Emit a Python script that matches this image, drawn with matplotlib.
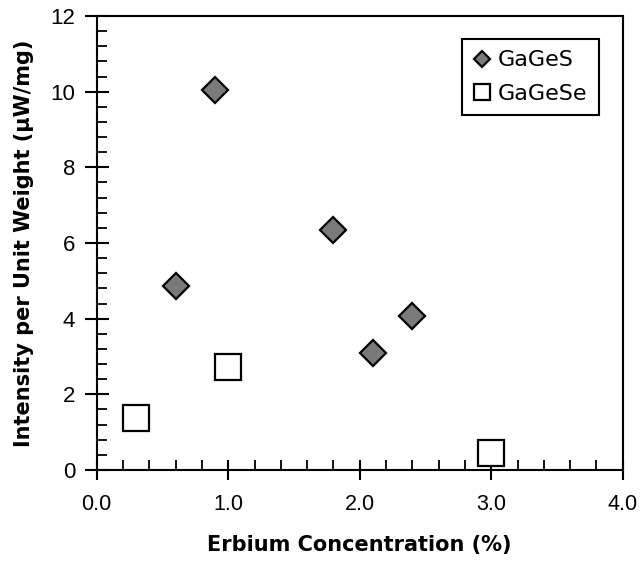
import matplotlib.pyplot as plt
from matplotlib.ticker import MultipleLocator

plt.rcParams['font.family'] = ['Liberation Sans', 'DejaVu Sans']

# data
gages_x = [0.6, 0.9, 1.8, 2.1, 2.4]
gages_y = [4.87, 10.05, 6.35, 3.09, 4.06]
gagese_x = [0.3, 1.0, 3.0]
gagese_y = [1.37, 2.72, 0.46]

xticks = [0.0, 1.0, 2.0, 3.0, 4.0]
xtick_labels = ["0.0", "1.0", "2.0", "3.0", "4.0"]
yticks = [0, 2, 4, 6, 8, 10, 12]

fig = plt.figure(figsize=(6.42, 5.62), dpi=100)
ax = fig.add_axes([0.1506, 0.1637, 0.8194, 0.8078])

ax.plot(gages_x, gages_y, linestyle="none", marker="D", markersize=13.2,
        markerfacecolor="#7a7a7a", markeredgecolor="black", markeredgewidth=1.6,
        label="GaGeS")
ax.plot(gagese_x, gagese_y, linestyle="none", marker="s", markersize=18.5,
        markerfacecolor="white", markeredgecolor="black", markeredgewidth=1.6,
        label="GaGeSe")

ax.set_xlim(0, 4.0)
ax.set_ylim(0, 12)
ax.set_xticks(xticks)
ax.set_xticklabels(xtick_labels)
ax.set_yticks(yticks)
ax.xaxis.set_minor_locator(MultipleLocator(0.2))
ax.yaxis.set_minor_locator(MultipleLocator(0.4))

ax.tick_params(axis="x", which="major", direction="inout", length=15, width=1.5,
               labelsize=15.5, pad=10)
ax.tick_params(axis="y", which="major", direction="inout", length=17, width=1.5,
               labelsize=16, pad=7)
ax.tick_params(axis="both", which="minor", direction="in", length=7, width=1.3)
for s in ax.spines.values():
    s.set_linewidth(1.5)

ax.set_xlabel("Erbium Concentration (%)", fontsize=15, fontweight="bold",
              family="DejaVu Sans", labelpad=14)
ax.set_ylabel("Intensity per Unit Weight (\u03bcW/mg)", fontsize=15,
              fontweight="bold", family="DejaVu Sans", labelpad=12)

leg = ax.legend(loc="upper right", bbox_to_anchor=(0.954, 0.949),
                prop={"family": "DejaVu Sans", "size": 16},
                markerscale=0.6, handlelength=0.8, handletextpad=0.3,
                borderpad=0.5, labelspacing=0.6, frameon=True, fancybox=False,
                borderaxespad=0)
leg.get_frame().set_edgecolor("black")
leg.get_frame().set_linewidth(1.5)
leg.get_frame().set_alpha(1)

fig.savefig("out.png", dpi=100)
